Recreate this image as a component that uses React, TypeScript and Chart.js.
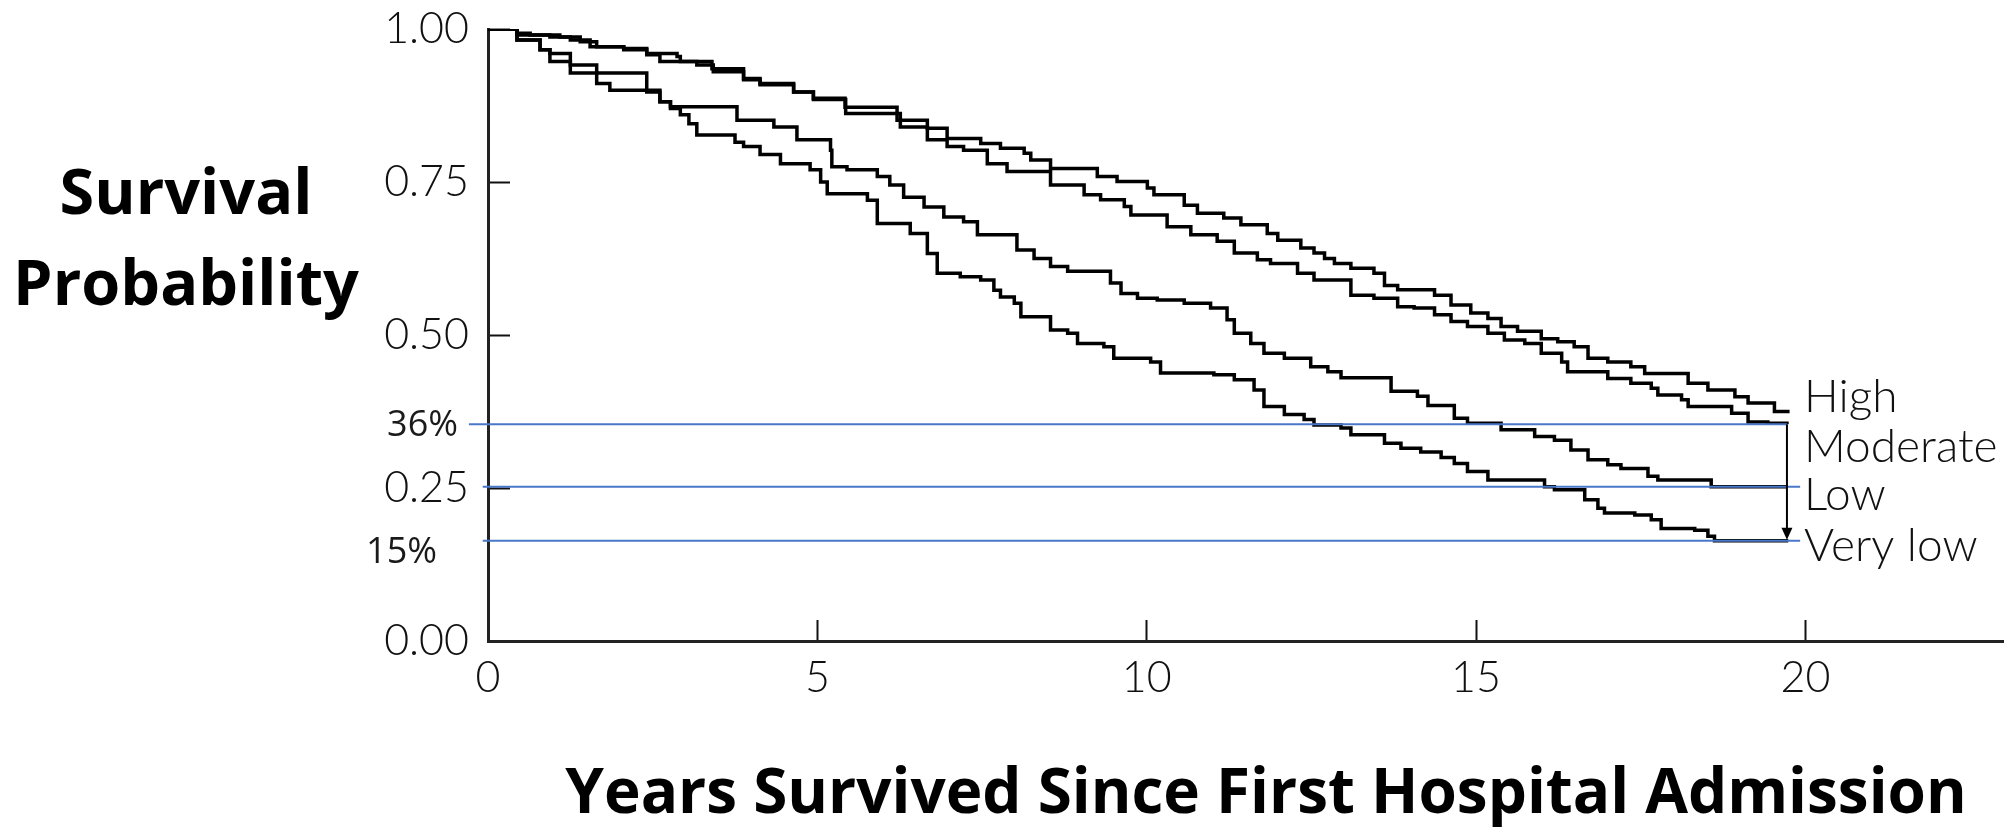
import React, { useEffect, useRef } from "react";
import { Chart, registerables } from "chart.js";

Chart.register(...registerables);

// ---------- data ----------
const seriesNames = ["High", "Moderate", "Low", "Very low"];

const highT = [0, 0.44, 0.64, 1.09, 1.4, 1.65, 2.06, 2.41, 2.87, 2.92, 3.4, 3.88, 4.13, 4.64, 4.94, 5.42, 6.21, 6.67, 6.97, 7.48, 7.78, 8.14, 8.24, 8.54, 9.25, 9.55, 10.01, 10.11, 10.57, 10.77, 11.17, 11.43, 11.83, 11.99, 12.34, 12.54, 12.7, 12.85, 13.1, 13.45, 13.61, 13.81, 14.37, 14.62, 14.92, 15.18, 15.38, 15.63, 15.99, 16.24, 16.49, 16.7, 17.0, 17.35, 17.56, 18.22, 18.52, 18.93, 19.13, 19.53, 19.76];
const highV = [1.0, 0.993, 0.99, 0.987, 0.979, 0.971, 0.968, 0.96, 0.955, 0.947, 0.935, 0.919, 0.911, 0.897, 0.887, 0.872, 0.851, 0.838, 0.821, 0.813, 0.805, 0.797, 0.786, 0.772, 0.759, 0.751, 0.74, 0.729, 0.712, 0.699, 0.691, 0.68, 0.666, 0.655, 0.642, 0.634, 0.625, 0.617, 0.609, 0.601, 0.581, 0.574, 0.565, 0.549, 0.536, 0.527, 0.514, 0.506, 0.494, 0.489, 0.481, 0.462, 0.456, 0.448, 0.437, 0.421, 0.41, 0.399, 0.389, 0.375, 0.375];

const moderateT = [0, 0.44, 0.94, 1.25, 1.55, 2.06, 2.41, 2.61, 3.17, 3.42, 3.88, 4.13, 4.64, 4.94, 5.43, 6.26, 6.67, 6.97, 7.22, 7.58, 7.88, 8.54, 9.05, 9.3, 9.66, 9.76, 10.31, 10.67, 11.07, 11.33, 11.68, 11.88, 12.29, 12.54, 13.1, 13.45, 13.81, 14.06, 14.37, 14.62, 14.87, 15.18, 15.43, 15.74, 15.99, 16.3, 16.39, 17.0, 17.35, 17.66, 17.76, 18.12, 18.22, 18.88, 19.13, 19.43, 19.72];
const moderateV = [1.0, 0.99, 0.987, 0.982, 0.971, 0.966, 0.958, 0.947, 0.941, 0.93, 0.917, 0.909, 0.897, 0.885, 0.862, 0.84, 0.819, 0.808, 0.802, 0.78, 0.767, 0.745, 0.729, 0.721, 0.71, 0.696, 0.677, 0.664, 0.653, 0.634, 0.623, 0.617, 0.601, 0.59, 0.565, 0.56, 0.546, 0.544, 0.533, 0.522, 0.514, 0.503, 0.492, 0.486, 0.47, 0.456, 0.44, 0.429, 0.421, 0.413, 0.402, 0.394, 0.383, 0.372, 0.358, 0.356, 0.354];

const lowT = [0, 0.44, 0.79, 0.94, 1.25, 1.65, 2.41, 2.61, 2.77, 3.78, 4.34, 4.69, 5.2, 5.22, 5.45, 5.91, 6.1, 6.31, 6.62, 6.92, 7.22, 7.43, 8.03, 8.29, 8.54, 8.8, 9.45, 9.61, 9.86, 10.16, 10.57, 10.97, 11.22, 11.33, 11.58, 11.78, 12.09, 12.49, 12.75, 12.95, 13.71, 14.11, 14.27, 14.67, 14.87, 15.38, 15.89, 16.19, 16.44, 16.7, 17.0, 17.2, 17.61, 17.76, 18.57, 19.72];
const lowV = [1.0, 0.982, 0.966, 0.96, 0.941, 0.928, 0.897, 0.881, 0.873, 0.851, 0.84, 0.819, 0.802, 0.775, 0.77, 0.759, 0.745, 0.725, 0.709, 0.693, 0.685, 0.664, 0.639, 0.625, 0.612, 0.604, 0.585, 0.568, 0.56, 0.557, 0.552, 0.544, 0.525, 0.503, 0.486, 0.47, 0.462, 0.448, 0.44, 0.43, 0.408, 0.4, 0.385, 0.364, 0.356, 0.345, 0.334, 0.328, 0.312, 0.296, 0.288, 0.282, 0.269, 0.263, 0.252, 0.252];

const veryLowT = [0, 0.44, 0.79, 0.94, 1.25, 1.65, 1.85, 2.61, 2.77, 2.92, 3.05, 3.17, 3.75, 3.88, 4.13, 4.44, 4.89, 5.05, 5.15, 5.76, 5.91, 6.41, 6.67, 6.82, 7.17, 7.48, 7.68, 7.78, 7.99, 8.09, 8.54, 8.8, 8.95, 9.35, 9.5, 10.06, 10.21, 11.02, 11.33, 11.63, 11.78, 12.09, 12.39, 12.54, 12.95, 13.1, 13.61, 13.86, 14.16, 14.47, 14.67, 14.87, 15.18, 16.04, 16.19, 16.65, 16.85, 16.95, 17.41, 17.66, 17.81, 18.32, 18.52, 18.62, 19.74];
const veryLowV = [1.0, 0.982, 0.966, 0.947, 0.928, 0.911, 0.9, 0.881, 0.87, 0.86, 0.845, 0.827, 0.815, 0.808, 0.795, 0.78, 0.77, 0.75, 0.731, 0.72, 0.682, 0.666, 0.633, 0.601, 0.595, 0.59, 0.573, 0.562, 0.552, 0.53, 0.508, 0.503, 0.486, 0.481, 0.462, 0.456, 0.438, 0.435, 0.427, 0.41, 0.383, 0.37, 0.362, 0.353, 0.348, 0.337, 0.323, 0.315, 0.309, 0.3, 0.29, 0.277, 0.263, 0.252, 0.247, 0.231, 0.217, 0.209, 0.206, 0.198, 0.184, 0.181, 0.171, 0.164, 0.164];

// reference (blue) lines
const refValues = [0.354, 0.252, 0.164];
const refLabels = ["36%", "", "15%"];
const refStartT = [-0.29, -0.08, -0.08];
const refEndT = [19.72, 19.92, 19.92];

// curve end labels
const curveLabelValues = [0.399, 0.317, 0.239, 0.155];
const curveLabelT = 19.98;
const arrowT = 19.72;

const xMin = 0;
const xMax = 23;
const xStep = 5;
const yMin = 0;
const yMax = 1;
const yStep = 0.25;

const yTitleLines = ["Survival", "Probability"];
const xTitle = "Years Survived Since First Hospital Admission";

// ---------- helpers ----------
const toPoints = (t: number[], v: number[]) => t.map((tt, i) => ({ x: tt, y: v[i] }));

const annotatePlugin = {
  id: "annotate",
  afterDatasetsDraw(chart: any) {
    const { ctx, scales } = chart;
    const x = scales.x;
    const y = scales.y;
    ctx.save();

    // blue reference lines
    ctx.strokeStyle = "#4a78c8";
    ctx.lineWidth = 2;
    refValues.forEach((v, i) => {
      const py = y.getPixelForValue(v);
      ctx.beginPath();
      ctx.moveTo(x.getPixelForValue(refStartT[i]), py);
      ctx.lineTo(x.getPixelForValue(refEndT[i]), py);
      ctx.stroke();
    });

    // arrow
    const ax = x.getPixelForValue(arrowT);
    const ay1 = y.getPixelForValue(refValues[0]);
    const ay2 = y.getPixelForValue(refValues[2]);
    ctx.strokeStyle = "#000";
    ctx.fillStyle = "#000";
    ctx.lineWidth = 2;
    ctx.beginPath();
    ctx.moveTo(ax, ay1);
    ctx.lineTo(ax, ay2 - 10);
    ctx.stroke();
    ctx.beginPath();
    ctx.moveTo(ax - 5.5, ay2 - 13);
    ctx.lineTo(ax + 5.5, ay2 - 13);
    ctx.lineTo(ax, ay2 - 1);
    ctx.closePath();
    ctx.fill();

    // percentage labels left of axis
    ctx.font = "36px 'Open Sans'";
    ctx.fillStyle = "#1a1a1a";
    ctx.textAlign = "right";
    ctx.textBaseline = "middle";
    const left = chart.chartArea.left;
    if (refLabels[0]) ctx.fillText(refLabels[0], left - 30, y.getPixelForValue(refValues[0]) + 1);
    if (refLabels[2]) ctx.fillText(refLabels[2], left - 51, y.getPixelForValue(refValues[2]) + 12);

    // curve labels
    ctx.font = "300 46px Lato";
    ctx.fillStyle = "#111";
    ctx.textAlign = "left";
    ctx.textBaseline = "middle";
    seriesNames.forEach((name, i) => {
      ctx.fillText(name, x.getPixelForValue(curveLabelT), y.getPixelForValue(curveLabelValues[i]));
    });

    // titles
    ctx.fillStyle = "#000";
    ctx.textAlign = "center";
    ctx.textBaseline = "alphabetic";
    ctx.font = "bold 63px 'Open Sans'";
    ctx.fillText(yTitleLines[0], 186, 214);
    ctx.fillText(yTitleLines[1], 186, 305);
    ctx.font = "bold 62px 'Open Sans'";
    ctx.fillText(xTitle, 1266, 813);

    ctx.restore();
  },
};

export default function App() {
  const canvasRef = useRef<HTMLCanvasElement | null>(null);

  useEffect(() => {
    document.body.style.margin = "0";
    const canvas = canvasRef.current;
    if (!canvas) return;

    const seriesT = [highT, moderateT, lowT, veryLowT];
    const seriesV = [highV, moderateV, lowV, veryLowV];

    const tickFont = { family: "Lato", size: 43, weight: "300" as any };

    const chart = new Chart(canvas, {
      type: "line",
      data: {
        datasets: seriesNames.map((name, i) => ({
          label: name,
          data: toPoints(seriesT[i], seriesV[i]),
          stepped: true,
          borderColor: "#000",
          borderWidth: 3.5,
          borderJoinStyle: "miter" as const,
          pointRadius: 0,
          fill: false,
          tension: 0,
        })),
      },
      options: {
        responsive: false,
        animation: false,
        devicePixelRatio: 1,
        layout: { padding: { left: 358, top: 29, right: 9, bottom: 0 } },
        plugins: {
          legend: { display: false },
          tooltip: { enabled: false },
          title: { display: false },
        },
        scales: {
          x: {
            type: "linear",
            min: xMin,
            max: xMax,
            ticks: {
              stepSize: xStep,
              includeBounds: false,
              font: tickFont,
              color: "#111",
              padding: 32,
              maxRotation: 0,
              autoSkip: false,
            },
            grid: {
              drawOnChartArea: false,
              drawTicks: true,
              tickLength: -21,
              tickWidth: 2,
              tickColor: "#111",
            },
            border: { display: true, color: "#222", width: 3 },
            afterFit: (s: any) => {
              s.height = 186;
              s.paddingLeft = 0;
              s.paddingRight = 0;
            },
          },
          y: {
            type: "linear",
            min: yMin,
            max: yMax,
            ticks: {
              stepSize: yStep,
              font: tickFont,
              color: "#111",
              padding: 41,
              callback: (v: any) => Number(v).toFixed(2),
            },
            grid: {
              drawOnChartArea: false,
              drawTicks: true,
              tickLength: -22,
              tickWidth: 2,
              tickColor: "#111",
            },
            border: { display: true, color: "#222", width: 3 },
            afterFit: (s: any) => {
              s.width = 130;
              s.paddingTop = 0;
              s.paddingBottom = 0;
            },
          },
        },
      },
      plugins: [annotatePlugin],
    });

    return () => {
      chart.destroy();
    };
  }, []);

  return (
    <div style={{ width: 2012, height: 827, background: "#fff" }}>
      <canvas ref={canvasRef} width={2012} height={827} style={{ display: "block" }} />
    </div>
  );
}
